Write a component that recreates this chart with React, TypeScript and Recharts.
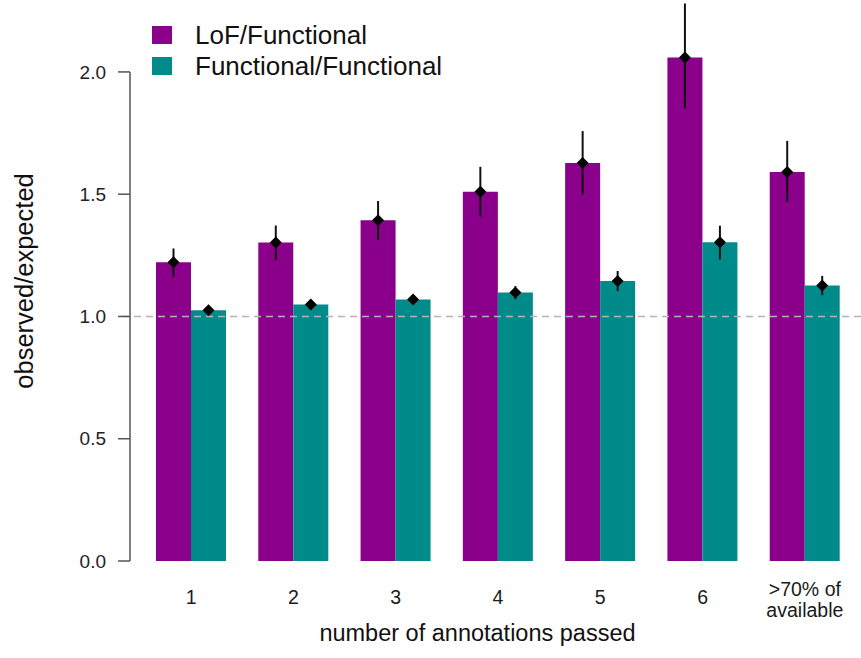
import {
  BarChart,
  Bar,
  XAxis,
  YAxis,
  ErrorBar,
  ReferenceLine,
  ReferenceArea,
  Legend,
  Label,
} from "recharts";

const FONT = '"Liberation Sans", Arial, sans-serif';
const PAD_LEFT = 10;

// group labels ("\n" splits the tick into lines)
const categories = ["1", "2", "3", "4", "5", "6", ">70% of\navailable"];
const seriesNames = ["LoF/Functional", "Functional/Functional"];

const lofValues = [1.222, 1.302, 1.393, 1.51, 1.628, 2.059, 1.591];
const lofLow = [1.162, 1.229, 1.311, 1.408, 1.499, 1.851, 1.469];
const lofHigh = [1.278, 1.372, 1.472, 1.612, 1.758, 2.28, 1.718];

const funcValues = [1.025, 1.049, 1.069, 1.098, 1.145, 1.303, 1.127];
const funcLow = [1.014, 1.04, 1.058, 1.071, 1.104, 1.233, 1.087];
const funcHigh = [1.036, 1.058, 1.08, 1.124, 1.186, 1.371, 1.166];

const yTicks = [0, 0.5, 1, 1.5, 2];

const LOF_COLOR = "#8b008b";
const FUNC_COLOR = "#008b8b";

const data = categories.map((name, i) => ({
  name,
  lof: lofValues[i],
  lofErr: [lofValues[i] - lofLow[i], lofHigh[i] - lofValues[i]],
  func: funcValues[i],
  funcErr: [funcValues[i] - funcLow[i], funcHigh[i] - funcValues[i]],
}));

function XTick(props: any) {
  const { x, y, payload } = props;
  const lines = String(payload.value).split("\n");
  const first = lines.length > 1 ? 35 : 43;
  return (
    <text x={x} y={y} textAnchor="middle" fontSize={19.5} fill="#1a1a1a" fontFamily={FONT}>
      {lines.map((line, i) => (
        <tspan key={i} x={x} y={y + first + i * 21}>
          {line}
        </tspan>
      ))}
    </text>
  );
}

// black diamond on top of each bar
function Diamond(props: any) {
  const vb = props.viewBox || props;
  const cx = vb.x + vb.width / 2;
  const cy = vb.y;
  const r = 6;
  return (
    <path
      d={`M${cx},${cy - r}L${cx + r},${cy}L${cx},${cy + r}L${cx - r},${cy}Z`}
      fill="#000"
    />
  );
}

// y axis line, only from 0.0 to 2.0
function AxisSegment(props: any) {
  const { x, y, height } = props;
  const ax = x - PAD_LEFT;
  return <line x1={ax} x2={ax} y1={y} y2={y + height} stroke="#555" strokeWidth={1.5} />;
}

function DashedLine(props: any) {
  const { x1, x2, y1 } = props;
  return (
    <line
      x1={x1 - PAD_LEFT + 2}
      x2={861}
      y1={y1}
      y2={y1}
      stroke="#b3b3b3"
      strokeWidth={1.5}
      strokeDasharray="7 5"
    />
  );
}

function LegendBox(props: any) {
  const payload = [...(props.payload || [])].sort(
    (a: any, b: any) => seriesNames.indexOf(a.value) - seriesNames.indexOf(b.value)
  );
  return (
    <div style={{ fontFamily: FONT }}>
      {payload.map((item: any) => (
        <div
          key={item.value}
          style={{ display: "flex", alignItems: "center", height: 31 }}
        >
          <div style={{ width: 20, height: 18, background: item.color }} />
          <span
            style={{
              marginLeft: 23,
              fontSize: 26,
              color: "#111",
              lineHeight: "31px",
              whiteSpace: "nowrap",
            }}
          >
            {item.value}
          </span>
        </div>
      ))}
    </div>
  );
}

export default function App() {
  return (
    <div style={{ position: "absolute", left: 0, top: 0, background: "#fff" }}>
      <BarChart
        width={861}
        height={658}
        data={data}
        margin={{ top: 1, right: 0, bottom: 0, left: 0 }}
        barGap={0}
        barSize={35}
      >
        <XAxis
          dataKey="name"
          axisLine={false}
          tickLine={false}
          tickSize={0}
          tickMargin={0}
          height={97}
          padding={{ left: PAD_LEFT, right: 5 }}
          tick={<XTick />}
          interval={0}
        >
          <Label
            content={(p: any) => {
              const vb = p.viewBox;
              return (
                <text
                  x={vb.x + vb.width / 2 - 18}
                  y={641}
                  textAnchor="middle"
                  fontSize={23.5}
                  fill="#111"
                  fontFamily={FONT}
                >
                  number of annotations passed
                </text>
              );
            }}
          />
        </XAxis>
        <YAxis
          width={130}
          domain={[0, 2.29]}
          ticks={yTicks}
          axisLine={false}
          tickSize={12}
          tickMargin={12}
          tickLine={{ stroke: "#555", strokeWidth: 1.5 }}
          tick={{ fontSize: 19, fill: "#222", fontFamily: FONT }}
          tickFormatter={(v: number) => v.toFixed(1)}
        >
          <Label
            content={(p: any) => {
              const vb = p.viewBox;
              const cy = vb.y + vb.height / 2;
              return (
                <text
                  x={33}
                  y={cy}
                  transform={`rotate(-90, 33, ${cy})`}
                  textAnchor="middle"
                  fontSize={25.5}
                  fill="#111"
                  fontFamily={FONT}
                >
                  observed/expected
                </text>
              );
            }}
          />
        </YAxis>
        <ReferenceArea y1={0} y2={2} fillOpacity={0} shape={<AxisSegment />} />
        <ReferenceLine y={1} shape={<DashedLine />} />
        <Legend
          layout="horizontal"
          verticalAlign="middle"
          align="center"
          wrapperStyle={{ left: 152, top: 19.5, width: "auto", height: "auto" }}
          content={<LegendBox />}
        />
        <Bar
          dataKey="lof"
          name="LoF/Functional"
          fill={LOF_COLOR}
          isAnimationActive={false}
          label={<Diamond />}
        >
          <ErrorBar dataKey="lofErr" width={0} stroke="#111" strokeWidth={2} />
        </Bar>
        <Bar
          dataKey="func"
          name="Functional/Functional"
          fill={FUNC_COLOR}
          isAnimationActive={false}
          label={<Diamond />}
        >
          <ErrorBar dataKey="funcErr" width={0} stroke="#111" strokeWidth={2} />
        </Bar>
      </BarChart>
    </div>
  );
}
